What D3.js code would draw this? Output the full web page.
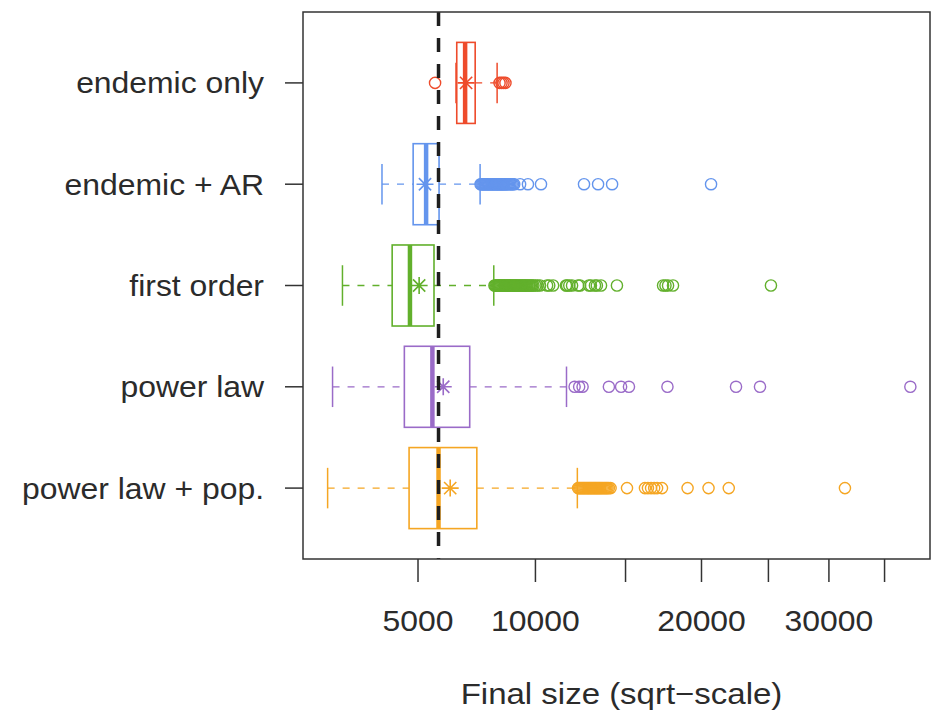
<!DOCTYPE html>
<html>
<head>
<meta charset="utf-8">
<script src="https://cdn.jsdelivr.net/npm/d3@7"></script>
<style>
  body { margin: 0; background: #fff; }
  text { font-family: "Liberation Sans", Arial, sans-serif; fill: #2b2b2b; }
</style>
</head>
<body>
<div id="chart"></div>
<script>
// ──── Data ────
const categories = ["endemic only", "endemic + AR", "first order", "power law", "power law + pop."];
const whiskerLow  = [6430, 3810, 2690, 2440, 2320];
const q1          = [6460, 4830, 4130, 4530, 4690];
const medians     = [6800, 5290, 4720, 5520, 5750];
const q3          = [7220, 5770, 5580, 6990, 7290];
const whiskerHigh = [8180, 7430, 8030, 11610, 12200];
const means       = [6840, 5250, 5040, 5930, 6200];

const outliersEndemic = [5620, 8290, 8380, 8470, 8560];
const outliersEndemicAR = [7450, 7490, 7530, 7570, 7610, 7650, 7690, 7730, 7770, 7810, 7850, 7890,
    7930, 7970, 8010, 8050, 8090, 8130, 8170, 8210, 8250, 8290, 8330, 8370, 8410, 8450, 8490, 8530,
    8580, 8630, 8680, 8730, 8790, 8850, 8910, 8970, 9250, 9630, 10280, 12570, 13370, 14190, 20680];
const outliersFirstOrder = [8060, 8100, 8140, 8180, 8220, 8260, 8300, 8340, 8380, 8420, 8460, 8500,
    8540, 8580, 8620, 8660, 8700, 8740, 8780, 8820, 8860, 8900, 8940, 8980, 9020, 9060, 9100, 9150,
    9200, 9250, 9300, 9350, 9400, 9450, 9500, 9550, 9600, 9660, 9720, 9780, 9840, 9900, 10000, 10100,
    10230, 10590, 10700, 10900, 11580, 11640, 11760, 11910, 12240, 12350, 12850, 12960, 13190, 13300,
    13540, 14480, 17380, 17540, 17710, 18040, 25200];
const outliersPowerLaw = [12050, 12300, 12490, 14000, 14730, 15210, 17670, 22510, 24340, 37450];
const outliersPowerLawPop = [12240, 12300, 12360, 12420, 12480, 12540, 12600, 12660, 12720, 12780,
    12840, 12900, 12960, 13020, 13080, 13140, 13200, 13260, 13320, 13380, 13440, 13500, 13570, 13640,
    13710, 13780, 13850, 13920, 14000, 14100, 15090, 16210, 16400, 16600, 16800, 16990, 17310,
    19030, 20500, 21970, 31400];
const outliers = [outliersEndemic, outliersEndemicAR, outliersFirstOrder, outliersPowerLaw, outliersPowerLawPop];

const referenceValue = 5750;
const xTicks = [5000, 10000, 15000, 20000, 25000, 30000, 35000];
const xTickLabels = [5000, 10000, 20000, 30000];
const colors = ["#ee4b2b", "#6495ed", "#62b02c", "#9a6bc8", "#f5a623"];

// ──── Layout ────
const W = 933, H = 712;
const plot = { left: 303, right: 930, top: 12, bottom: 559 };
const stretch = 1.1;   // the original figure is a bit wider than tall

const svg = d3.select("#chart").append("svg")
    .attr("width", W).attr("height", H);

const x = d3.scaleSqrt()
    .domain([1766, 39370])
    .range([plot.left, plot.right]);

const y = d3.scaleLinear()
    .domain([0.3, 5.7])
    .range([plot.bottom, plot.top]);

const pos = i => y(categories.length - i);
const half = 0.4 * (y(0) - y(1));

// ──── Boxes ────
const rows = categories.map((c, i) => ({
    name: c, i, color: colors[i],
    lo: whiskerLow[i], q1: q1[i], med: medians[i], q3: q3[i], hi: whiskerHigh[i],
    mean: means[i], out: outliers[i]
}));

const g = svg.selectAll("g.row")
    .data(rows)
    .join("g")
    .attr("class", "row");

// whiskers (dashed)
g.append("line")
    .attr("x1", d => x(d.lo)).attr("x2", d => x(d.q1))
    .attr("y1", d => pos(d.i)).attr("y2", d => pos(d.i))
    .attr("stroke", d => d.color).attr("stroke-width", 1.3)
    .attr("stroke-dasharray", "7,8");
g.append("line")
    .attr("x1", d => x(d.q3)).attr("x2", d => x(d.hi))
    .attr("y1", d => pos(d.i)).attr("y2", d => pos(d.i))
    .attr("stroke", d => d.color).attr("stroke-width", 1.3)
    .attr("stroke-dasharray", "7,8");

// staples
["lo", "hi"].forEach(k => {
    g.append("line")
        .attr("x1", d => x(d[k])).attr("x2", d => x(d[k]))
        .attr("y1", d => pos(d.i) - half / 2).attr("y2", d => pos(d.i) + half / 2)
        .attr("stroke", d => d.color).attr("stroke-width", 1.5);
});

// box
g.append("rect")
    .attr("x", d => x(d.q1))
    .attr("width", d => x(d.q3) - x(d.q1))
    .attr("y", d => pos(d.i) - half)
    .attr("height", 2 * half)
    .attr("fill", "none")
    .attr("stroke", d => d.color).attr("stroke-width", 1.6);

// median
g.append("line")
    .attr("x1", d => x(d.med)).attr("x2", d => x(d.med))
    .attr("y1", d => pos(d.i) - half).attr("y2", d => pos(d.i) + half)
    .attr("stroke", d => d.color).attr("stroke-width", 4.5);

// outliers
g.selectAll("circle")
    .data(d => d.out.map(v => ({ v, i: d.i, color: d.color })))
    .join("circle")
    .attr("cx", d => x(d.v))
    .attr("cy", d => pos(d.i))
    .attr("r", 5.6)
    .attr("fill", "none")
    .attr("stroke", d => d.color)
    .attr("stroke-width", 1.4);

// mean (asterisk)
const a = 8.5;
g.append("path")
    .attr("d", d => {
        const cx = x(d.mean), cy = pos(d.i), b = a * 0.72;
        return `M${cx - a},${cy}H${cx + a}M${cx},${cy - a}V${cy + a}` +
            `M${cx - b},${cy - b}L${cx + b},${cy + b}M${cx - b},${cy + b}L${cx + b},${cy - b}`;
    })
    .attr("stroke", d => d.color).attr("stroke-width", 1.6).attr("fill", "none");

// reference line
svg.append("line")
    .attr("x1", x(referenceValue)).attr("x2", x(referenceValue))
    .attr("y1", plot.top).attr("y2", plot.bottom)
    .attr("stroke", "#1e1e1e").attr("stroke-width", 3.5)
    .attr("stroke-dasharray", "14,12");

// ──── Frame & axes ────
svg.append("rect")
    .attr("x", plot.left).attr("y", plot.top)
    .attr("width", plot.right - plot.left).attr("height", plot.bottom - plot.top)
    .attr("fill", "none").attr("stroke", "#333").attr("stroke-width", 1.5);

// left ticks + category labels
svg.selectAll("line.ytick")
    .data(categories)
    .join("line")
    .attr("class", "ytick")
    .attr("x1", plot.left - 18).attr("x2", plot.left)
    .attr("y1", (d, i) => pos(i)).attr("y2", (d, i) => pos(i))
    .attr("stroke", "#333").attr("stroke-width", 1.5);

svg.selectAll("text.ylab")
    .data(categories)
    .join("text")
    .attr("class", "ylab")
    .attr("transform", (d, i) => `translate(264,${pos(i)}) scale(${stretch},1)`)
    .attr("text-anchor", "end")
    .attr("dy", "0.36em")
    .style("font-size", "29px")
    .text(d => d);

// bottom ticks
svg.selectAll("line.xtick")
    .data(xTicks)
    .join("line")
    .attr("class", "xtick")
    .attr("x1", d => x(d)).attr("x2", d => x(d))
    .attr("y1", plot.bottom).attr("y2", plot.bottom + 23)
    .attr("stroke", "#333").attr("stroke-width", 1.5);

svg.selectAll("text.xlab")
    .data(xTickLabels)
    .join("text")
    .attr("class", "xlab")
    .attr("transform", d => `translate(${x(d)},631) scale(${stretch},1)`)
    .attr("text-anchor", "middle")
    .style("font-size", "29px")
    .text(d => d);

svg.append("text")
    .attr("transform", `translate(${(plot.left + plot.right) / 2 + 5},704) scale(${stretch},1)`)
    .attr("text-anchor", "middle")
    .style("font-size", "30px")
    .text("Final size (sqrt\u2212scale)");
</script>
</body>
</html>
